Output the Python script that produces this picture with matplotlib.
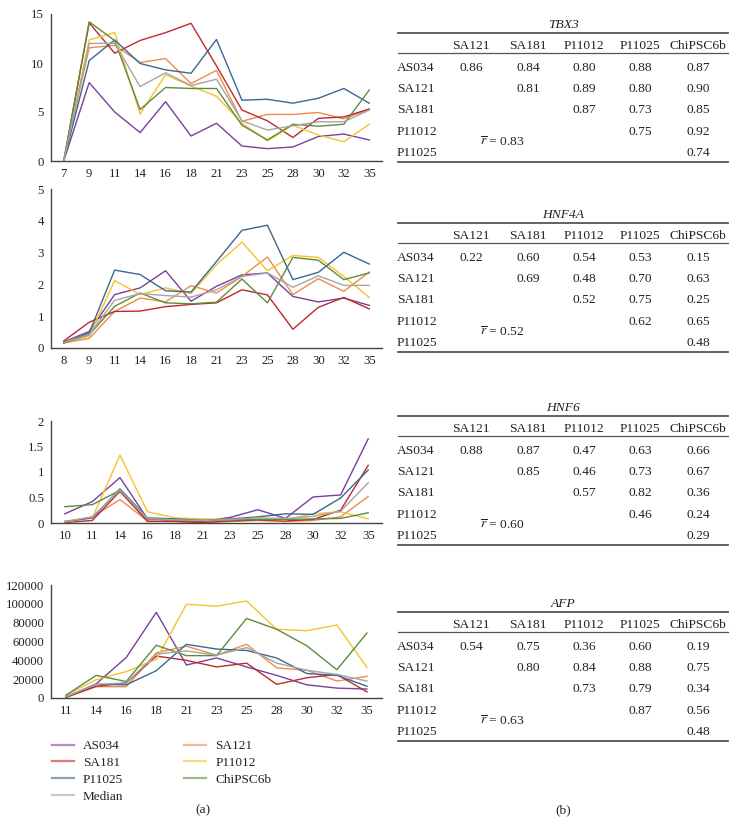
import matplotlib
matplotlib.use("Agg")
import matplotlib.pyplot as plt
from matplotlib.lines import Line2D

plt.rcParams['font.family'] = ['Liberation Serif', 'DejaVu Serif']
plt.rcParams['mathtext.fontset'] = 'stix'

# ---------------- data ----------------
series_names = ["AS034", "SA121", "SA181", "P11012", "P11025", "ChiPSC6b", "Median"]
series_colors = ["#7B3F9E", "#EE8B4A", "#C0282C", "#F5C32C", "#3A6891", "#5E8C3A", "#A5A5A5"]

tbx3_days = ["7", "9", "11", "14", "16", "18", "21", "23", "25", "28", "30", "32", "35"]
tbx3_AS034 = [0, 8.0, 5.0, 2.9, 6.05, 2.55, 3.85, 1.53, 1.26, 1.43, 2.5, 2.75, 2.15]
tbx3_SA121 = [0, 11.55, 11.8, 10.05, 10.45, 7.9, 9.25, 4.05, 4.75, 4.75, 4.95, 4.3, 5.3]
tbx3_SA181 = [0, 14.1, 11.0, 12.3, 13.1, 14.05, 9.7, 5.2, 4.1, 2.4, 4.35, 4.5, 5.3]
tbx3_P11012 = [0, 12.35, 13.1, 4.8, 8.8, 7.65, 6.6, 3.85, 2.05, 3.65, 2.65, 1.97, 3.75]
tbx3_P11025 = [0, 10.25, 12.35, 9.95, 9.3, 8.95, 12.4, 6.2, 6.3, 5.9, 6.4, 7.4, 5.9]
tbx3_ChiPSC6b = [0, 14.2, 12.3, 5.25, 7.5, 7.4, 7.4, 3.65, 2.15, 3.75, 3.55, 3.75, 7.25]
tbx3_Median = [0, 12.0, 12.0, 7.6, 9.0, 7.7, 8.35, 4.1, 3.15, 3.6, 4.0, 4.0, 5.2]

hnf4a_days = ["8", "9", "11", "14", "16", "18", "21", "23", "25", "28", "30", "32", "35"]
hnf4a_AS034 = [0.19, 0.52, 1.68, 1.89, 2.43, 1.47, 1.94, 2.3, 2.36, 1.62, 1.45, 1.57, 1.34]
hnf4a_SA121 = [0.16, 0.3, 1.15, 1.57, 1.45, 1.96, 1.73, 2.25, 2.86, 1.68, 2.18, 1.78, 2.39]
hnf4a_SA181 = [0.22, 0.81, 1.15, 1.16, 1.3, 1.37, 1.42, 1.83, 1.67, 0.59, 1.28, 1.59, 1.23]
hnf4a_P11012 = [0.16, 0.37, 2.12, 1.68, 1.89, 1.71, 2.62, 3.33, 2.43, 2.91, 2.85, 2.25, 1.59]
hnf4a_P11025 = [0.16, 0.47, 2.45, 2.31, 1.8, 1.76, 2.72, 3.7, 3.86, 2.15, 2.38, 3.01, 2.64]
hnf4a_ChiPSC6b = [0.16, 0.42, 1.31, 1.73, 1.42, 1.39, 1.44, 2.17, 1.42, 2.85, 2.76, 2.15, 2.36]
hnf4a_Median = [0.18, 0.42, 1.5, 1.71, 1.65, 1.6, 1.83, 2.25, 2.36, 1.91, 2.27, 1.97, 1.97]

hnf6_days = ["10", "11", "14", "16", "18", "21", "23", "25", "28", "30", "32", "35"]
hnf6_AS034 = [0.18, 0.42, 0.89, 0.08, 0.05, 0.03, 0.11, 0.26, 0.09, 0.51, 0.55, 1.65]
hnf6_SA121 = [0.01, 0.12, 0.46, 0.04, 0.03, 0.01, 0.03, 0.05, 0.03, 0.05, 0.12, 0.52]
hnf6_SA181 = [0.01, 0.05, 0.62, 0.03, 0.03, 0.01, 0.04, 0.06, 0.04, 0.07, 0.25, 1.13]
hnf6_P11012 = [0.02, 0.1, 1.33, 0.22, 0.1, 0.08, 0.07, 0.08, 0.06, 0.18, 0.22, 0.08]
hnf6_P11025 = [0.03, 0.1, 0.67, 0.1, 0.08, 0.05, 0.08, 0.12, 0.18, 0.17, 0.49, 1.04]
hnf6_ChiPSC6b = [0.32, 0.36, 0.64, 0.08, 0.06, 0.05, 0.06, 0.07, 0.07, 0.08, 0.09, 0.2]
hnf6_Median = [0.03, 0.12, 0.65, 0.09, 0.06, 0.05, 0.07, 0.1, 0.09, 0.13, 0.23, 0.79]

afp_days = ["11", "14", "16", "18", "21", "23", "25", "28", "30", "32", "35"]
afp_AS034 = [1000, 15000, 43000, 91000, 35000, 42500, 33000, 24000, 14000, 10500, 9500]
afp_SA121 = [500, 12000, 12000, 48000, 55000, 45500, 57000, 32000, 29500, 18000, 23000]
afp_SA181 = [1000, 12500, 16000, 44500, 40000, 33000, 37000, 14500, 21500, 25000, 6500]
afp_P11012 = [3000, 19500, 28000, 41000, 99500, 97500, 103000, 73000, 71500, 77500, 32500]
afp_P11025 = [1000, 14500, 14000, 29000, 57000, 52000, 50500, 42500, 26000, 24000, 12500]
afp_ChiPSC6b = [3000, 24000, 17500, 56000, 45000, 45000, 84500, 73000, 55500, 30000, 69000]
afp_Median = [1500, 14500, 16000, 46500, 50000, 45500, 53500, 37000, 29500, 25000, 18000]

y_ticks_tbx3 = [0, 5, 10, 15]
y_ticks_hnf4a = [0, 1, 2, 3, 4, 5]
y_ticks_hnf6 = [0, 0.5, 1, 1.5, 2]
y_tick_labels_hnf6 = ["0", "0.5", "1", "1.5", "2"]
y_ticks_afp = [0, 20000, 40000, 60000, 80000, 100000, 120000]

table_cols = ["SA121", "SA181", "P11012", "P11025", "ChiPSC6b"]
table_rows = ["AS034", "SA121", "SA181", "P11012", "P11025"]
tbx3_r = [[0.86, 0.84, 0.80, 0.88, 0.87], [0.81, 0.89, 0.80, 0.90], [0.87, 0.73, 0.85], [0.75, 0.92], [0.74]]
hnf4a_r = [[0.22, 0.60, 0.54, 0.53, 0.15], [0.69, 0.48, 0.70, 0.63], [0.52, 0.75, 0.25], [0.62, 0.65], [0.48]]
hnf6_r = [[0.88, 0.87, 0.47, 0.63, 0.66], [0.85, 0.46, 0.73, 0.67], [0.57, 0.82, 0.36], [0.46, 0.24], [0.29]]
afp_r = [[0.54, 0.75, 0.36, 0.60, 0.19], [0.80, 0.84, 0.88, 0.75], [0.73, 0.79, 0.34], [0.87, 0.56], [0.48]]
gene_names = ["TBX3", "HNF4A", "HNF6", "AFP"]
mean_r = [0.83, 0.52, 0.60, 0.63]

# ---------------- figure ----------------
W, H = 737, 824
fig = plt.figure(figsize=(W / 100, H / 100), dpi=100)
FS_TICK = 9.2
FS_TAB = 9.7
FS_LEG = 9.5
TXT = "#222222"


def px_axes(left, top, right, bottom):
    return fig.add_axes([left / W, 1 - bottom / H, (right - left) / W, (bottom - top) / H])


panels = [
    (tbx3_days, [tbx3_AS034, tbx3_SA121, tbx3_SA181, tbx3_P11012, tbx3_P11025, tbx3_ChiPSC6b, tbx3_Median],
     y_ticks_tbx3, None, (14, 161)),
    (hnf4a_days, [hnf4a_AS034, hnf4a_SA121, hnf4a_SA181, hnf4a_P11012, hnf4a_P11025, hnf4a_ChiPSC6b, hnf4a_Median],
     y_ticks_hnf4a, None, (189, 348)),
    (hnf6_days, [hnf6_AS034, hnf6_SA121, hnf6_SA181, hnf6_P11012, hnf6_P11025, hnf6_ChiPSC6b, hnf6_Median],
     y_ticks_hnf6, y_tick_labels_hnf6, (421, 523)),
    (afp_days, [afp_AS034, afp_SA121, afp_SA181, afp_P11012, afp_P11025, afp_ChiPSC6b, afp_Median],
     y_ticks_afp, None, (585, 698)),
]

for days, data, yt, ytl, (top, bottom) in panels:
    ax = px_axes(51, top, 382, bottom)
    x = list(range(len(days)))
    for name, col, vals in zip(series_names, series_colors, data):
        ax.plot(x, vals, color=col, lw=1.0, label=name)
    ax.set_xlim(-0.5, len(days) - 0.5)
    ax.set_ylim(yt[0], yt[-1])
    ax.set_xticks(x)
    ax.set_xticklabels(days)
    ax.set_yticks(yt)
    if ytl is not None:
        ax.set_yticklabels(ytl)
    for s in ["top", "right"]:
        ax.spines[s].set_visible(False)
    for s in ["left", "bottom"]:
        ax.spines[s].set_color("#444444")
        ax.spines[s].set_linewidth(1.0)
    ax.tick_params(length=0, labelsize=FS_TICK, colors=TXT, pad=5)

# legend
handles = [Line2D([], [], color=c, lw=1.6, alpha=0.6) for c in series_colors]
order = [0, 2, 4, 6, 1, 3, 5]
fig.legend([handles[i] for i in order], [series_names[i] for i in order],
           loc="upper left", bbox_to_anchor=(52 / W, 1 - 740 / H), ncol=2,
           frameon=False, fontsize=FS_LEG, borderpad=0, borderaxespad=0,
           handlelength=1.65, handletextpad=0.7, labelspacing=0.35, columnspacing=4.6,
           labelcolor=TXT)

# ---------------- tables ----------------
tax = fig.add_axes([0, 0, 1, 1])
tax.set_xlim(0, W)
tax.set_ylim(H, 0)
tax.axis("off")

col_x = [471, 528, 584, 640, 698]
row_label_x = 397
line_l, line_r = 398, 728
title_y = [25, 215, 408, 604]
tables = [tbx3_r, hnf4a_r, hnf6_r, afp_r]

for gname, tvals, rbar, ty in zip(gene_names, tables, mean_r, title_y):
    tax.text(563, ty, gname, style="italic", ha="center", va="center", fontsize=FS_TAB, color=TXT)
    tax.plot([line_l, line_r], [ty + 8, ty + 8], color="#555555", lw=1.3)
    for cx, cn in zip(col_x, table_cols):
        tax.text(cx, ty + 21, cn, ha="center", va="center", fontsize=FS_TAB, color=TXT)
    tax.plot([line_l, line_r], [ty + 28, ty + 28], color="#555555", lw=0.9)
    for i, (rn, vals) in enumerate(zip(table_rows, tvals)):
        ry = ty + 43 + 21.2 * i
        tax.text(row_label_x, ry, rn, ha="left", va="center", fontsize=FS_TAB, color=TXT)
        for j, v in enumerate(vals):
            tax.text(col_x[i + j], ry, f"{v:.2f}", ha="center", va="center", fontsize=FS_TAB, color=TXT)
    tax.plot([line_l, line_r], [ty + 137, ty + 137], color="#555555", lw=1.3)
    tax.text(502, ty + 117, r"$\overline{r}$" + f" = {rbar:.2f}", ha="center", va="center",
             fontsize=FS_TAB, color=TXT)

tax.text(203, 810, "(a)", ha="center", va="center", fontsize=FS_TAB, color=TXT)
tax.text(563, 810, "(b)", ha="center", va="center", fontsize=FS_TAB, color=TXT)

fig.savefig("out.png", dpi=100)
